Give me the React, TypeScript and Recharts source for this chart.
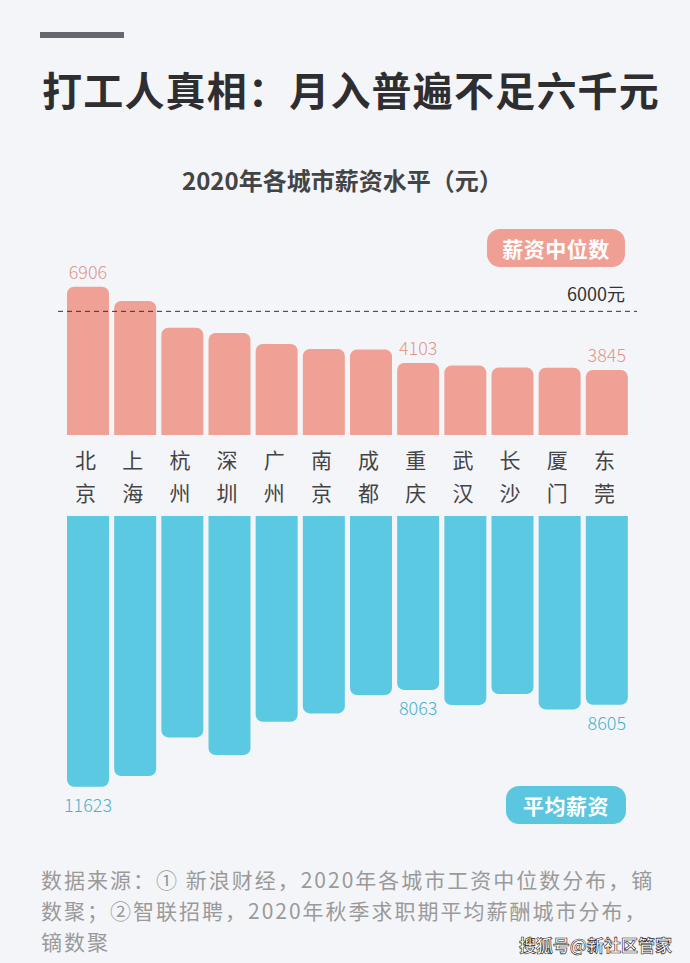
import React from 'react';
import { BarChart, Bar, XAxis, YAxis, ReferenceLine, LabelList } from 'recharts';

const cities = ['北京', '上海', '杭州', '深圳', '广州', '南京', '成都', '重庆', '武汉', '长沙', '厦门', '东莞'];
const medianPay = [6906, 6381, 5400, 5205, 4800, 4617, 4600, 4103, 4003, 3930, 3925, 3845];
const averagePay = [11623, 11229, 9805, 10456, 9230, 8921, 8247, 8063, 8615, 8210, 8774, 8605];
const labelledCities = ['北京', '重庆', '东莞'];
const sourceLines = [
  '数据来源：① 新浪财经，2020年各城市工资中位数分布，镝',
  '数聚；②智联招聘，2020年秋季求职期平均薪酬城市分布，',
  '镝数聚',
];

const data = cities.map((city, i) => ({ city, median: medianPay[i], average: averagePay[i] }));

const FONT = '"Noto Sans CJK SC", "Noto Sans", sans-serif';
const PINK = '#f0a195';
const CYAN = '#5bc9e1';
const chartMargin = { left: 58, right: 53 };
const axisPad = { left: 6, right: 7 };

const CityTick = (props: any) => {
  const { x, payload } = props;
  const chars = String(payload.value).split('');
  return (
    <text textAnchor="middle" fill="#444" fontSize={21} fontFamily={FONT}>
      <tspan x={x - 2} y={248}>{chars[0]}</tspan>
      <tspan x={x - 2} y={281}>{chars[1]}</tspan>
    </text>
  );
};

const TopLabel = (props: any) => {
  const { x, y, width, value, index } = props;
  if (!labelledCities.includes(cities[index])) return null;
  return (
    <text x={x + width / 2} y={y - 8} textAnchor="middle" fill="#e3968a" fontSize={18} fontWeight={300} fontFamily={FONT}>
      {value}
    </text>
  );
};

const BottomLabel = (props: any) => {
  const { x, y, width, height, value, index } = props;
  if (!labelledCities.includes(cities[index])) return null;
  const bottom = Math.max(y, y + height);
  return (
    <text x={x + width / 2} y={bottom + 25} textAnchor="middle" fill="#4ab2cb" fontSize={18} fontWeight={300} fontFamily={FONT}>
      {value}
    </text>
  );
};

const Pill = ({ text, color, left, top, width }: { text: string; color: string; left: number; top: number; width: number }) => (
  <div
    style={{
      position: 'absolute', left, top, width, height: 38, borderRadius: 13, background: color,
      color: '#fff', fontSize: 21, fontWeight: 700, lineHeight: '38px', textAlign: 'center', letterSpacing: 0.5,
    }}
  >
    {text}
  </div>
);

export default function App() {
  return (
    <div style={{ position: 'relative', width: 690, height: 963, overflow: 'hidden', background: '#f4f5f9', fontFamily: FONT }}>
      <style>{'body{margin:0}'}</style>
      <div style={{ position: 'absolute', left: 40, top: 32, width: 84, height: 6, background: '#66666e' }} />
      <div style={{ position: 'absolute', left: 42, top: 69, fontSize: 40, lineHeight: '40px', fontWeight: 700, color: '#2e2e30', letterSpacing: 1.2, whiteSpace: 'nowrap' }}>
        打工人真相：月入普遍不足六千元
      </div>
      <div style={{ position: 'absolute', left: 182, top: 168, fontSize: 24, lineHeight: '24px', fontWeight: 700, color: '#444', whiteSpace: 'nowrap' }}>
        2020年各城市薪资水平（元）
      </div>

      <div style={{ position: 'absolute', left: 0, top: 220 }}>
        <BarChart width={690} height={295} data={data} margin={{ top: 37, right: chartMargin.right, bottom: 0, left: chartMargin.left }}>
          <XAxis dataKey="city" height={80} axisLine={false} tickLine={false} padding={axisPad} tick={<CityTick />} interval={0} />
          <YAxis hide domain={[1450, 8000]} allowDataOverflow />
          <Bar dataKey="median" fill={PINK} barSize={42} radius={[7, 7, 0, 0]} isAnimationActive={false}>
            <LabelList dataKey="median" content={<TopLabel />} />
          </Bar>
          <ReferenceLine
            y={6000}
            stroke="#333"
            strokeDasharray="5 4"
            label={(p: any) => (
              <text x={p.viewBox.x + p.viewBox.width - 12} y={p.viewBox.y - 10} textAnchor="end" fill="#333" fontSize={18} fontFamily={FONT}>
                6000元
              </text>
            )}
          />
        </BarChart>
      </div>

      <div style={{ position: 'absolute', left: 0, top: 516 }}>
        <BarChart width={690} height={310} data={data} margin={{ top: 0, right: chartMargin.right, bottom: 29, left: chartMargin.left }}>
          <XAxis dataKey="city" hide padding={axisPad} />
          <YAxis hide reversed domain={[1650, 12000]} allowDataOverflow />
          <Bar dataKey="average" fill={CYAN} barSize={42} radius={[7, 7, 0, 0]} isAnimationActive={false}>
            <LabelList dataKey="average" content={<BottomLabel />} />
          </Bar>
        </BarChart>
      </div>

      <Pill text="薪资中位数" color="#ef9f94" left={487} top={229} width={138} />
      <Pill text="平均薪资" color="#5bc6df" left={506} top={786} width={120} />

      <div style={{ position: 'absolute', left: 41, top: 864, fontSize: 21, lineHeight: '31px', letterSpacing: 2, color: '#9a9a9a', whiteSpace: 'nowrap' }}>
        {sourceLines.map((line) => (
          <div key={line}>{line}</div>
        ))}
      </div>
      <div style={{ position: 'absolute', right: 18, top: 934, fontSize: 17, lineHeight: '22px', fontWeight: 700, color: '#fff', WebkitTextStroke: '0.6px #222', whiteSpace: 'nowrap' }}>
        搜狐号@新社区管家
      </div>
    </div>
  );
}
